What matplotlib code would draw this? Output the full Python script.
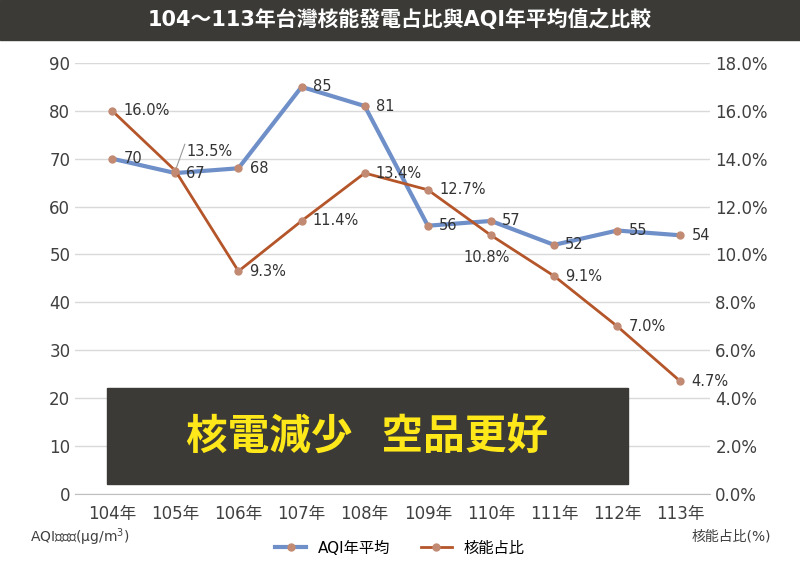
import matplotlib
matplotlib.use("Agg")
import matplotlib.pyplot as plt
from matplotlib.patches import Rectangle
from matplotlib.lines import Line2D
from matplotlib import font_manager as fm

names = {f.name for f in fm.fontManager.ttflist}
cjk = [n for n in ["Noto Sans CJK TC", "Noto Sans CJK JP", "Noto Sans CJK SC", "Noto Sans CJK KR",
                   "Noto Sans TC", "Noto Sans JP", "Noto Sans SC"] if n in names]
if not cjk:
    cjk = [n for n in names if "CJK" in n]
plt.rcParams['font.family'] = ['DejaVu Sans'] + cjk

years = ["104年","105年","106年","107年","108年","109年","110年","111年","112年","113年"]
aqi = [70, 67, 68, 85, 81, 56, 57, 52, 55, 54]
nuclear = [16.0, 13.5, 9.3, 11.4, 13.4, 12.7, 10.8, 9.1, 7.0, 4.7]
title = "104～113年台灣核能發電占比與AQI年平均值之比較"
banner = "核電減少  空品更好"

blue = "#6f8fc9"; brown = "#b4552a"; dot = "#c28a72"

fig = plt.figure(figsize=(8, 5.67), dpi=100)
fig.patch.set_facecolor("white")
fig.add_artist(Rectangle((0, 1-40/567), 1, 40/567, transform=fig.transFigure, color="#3b3a36", zorder=0))
fig.text(0.5, 1-20/567, title, color="white", fontsize=15, fontweight="bold", ha="center", va="center")

ax = fig.add_axes([0.094, 0.129, 0.794, 0.76])
x = list(range(len(years)))
ax.plot(x, aqi, color=blue, lw=3, zorder=3)
ax.plot(x, aqi, 'o', color=dot, ms=5, zorder=4)
ax.set_ylim(0, 90); ax.set_yticks(range(0, 91, 10))
ax.set_xlim(-0.586, 9.476)
ax.set_xticks(x); ax.set_xticklabels(years)
ax.grid(axis='y', color="#d9d9d9", lw=1)
ax.set_axisbelow(True)
for s in ax.spines.values(): s.set_visible(False)
ax.spines['bottom'].set_visible(True); ax.spines['bottom'].set_color("#bfbfbf")
ax.tick_params(length=0, labelsize=12, colors="#404040")
ax.tick_params(axis='x', pad=8)

ax2 = ax.twinx()
ax2.plot(x, nuclear, color=brown, lw=2, zorder=3)
ax2.plot(x, nuclear, 'o', color=dot, ms=5, zorder=4)
ax2.set_ylim(0, 18); ax2.set_yticks(range(0, 19, 2))
ax2.set_yticklabels([f"{v:.1f}%" for v in range(0, 19, 2)])
for s in ax2.spines.values(): s.set_visible(False)
ax2.tick_params(length=0, labelsize=12, colors="#404040")

for i, v in enumerate(aqi):
    ax.annotate(str(v), (i, v), xytext=(8, 0), textcoords="offset points", fontsize=10.5, va="center", color="#333")
for i, v in enumerate(nuclear):
    off = (8, 0)
    if i == 1: off = (8, 14)
    if i == 6: off = (-20, -16)
    ax2.annotate(f"{v:.1f}%", (i, v), xytext=off, textcoords="offset points", fontsize=10.5, va="center", color="#333")
ax2.plot([1, 1.15], [13.5, 14.6], color="#999", lw=0.8)

fig.add_artist(Rectangle((107/800, 1-484/567), 521/800, 96/567, transform=fig.transFigure, color="#3b3a36", zorder=5))
fig.text(367/800, 1-437/567, banner, color="#ffe81a", fontsize=30, fontweight="bold", ha="center", va="center", zorder=6)

fig.text(30/800, 1-537/567, "AQI年平均(μg/m$^3$)", fontsize=10, color="#404040", va="center")
fig.text(692/800, 1-537/567, "核能占比(%)", fontsize=10, color="#404040", va="center")
handles = [Line2D([], [], color=blue, lw=3, marker='o', mfc=dot, mec=dot, ms=5),
           Line2D([], [], color=brown, lw=2, marker='o', mfc=dot, mec=dot, ms=5)]
fig.legend(handles, ["AQI年平均", "核能占比"], loc="center", bbox_to_anchor=(0.5, 1-548/567), ncol=2, frameon=False, fontsize=11)

fig.savefig("out.png", dpi=100)
